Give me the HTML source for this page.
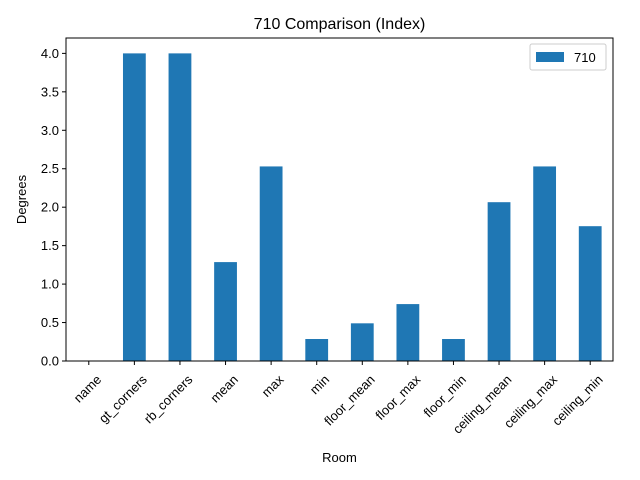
<!DOCTYPE html>
<html><head><meta charset="utf-8"><style>
body{margin:0;background:#fff;}
svg{display:block;font-family:"Liberation Sans","DejaVu Sans",sans-serif;}
</style></head><body>
<svg id="chart" width="640" height="480" viewBox="0 0 640 480">
<rect width="640" height="480" fill="#fff"/>
<text x="339.5" y="29" text-anchor="middle" font-size="16">710 Comparison (Index)</text>
<g id="bars"></g>
<g id="yticks"></g>
<g id="xticks"></g>
<rect x="66" y="38" width="547" height="323" fill="none" stroke="#000" stroke-width="1"/>
<text x="339.5" y="462" text-anchor="middle" font-size="13">Room</text>
<text transform="translate(26,199.5) rotate(-90)" text-anchor="middle" font-size="13">Degrees</text>
<g>
<rect x="530" y="44" width="76" height="26" fill="#fff" stroke="#ccc" rx="2"/>
<rect x="536" y="52" width="28" height="10" fill="#1f77b4"/>
<text x="574" y="62" font-size="13">710</text>
</g>
</svg>
<script>
const categories=["name","gt_corners","rb_corners","mean","max","min","floor_mean","floor_max","floor_min","ceiling_mean","ceiling_max","ceiling_min"];
const values=[0,4.0,4.0,1.286,2.53,0.286,0.49,0.74,0.286,2.065,2.53,1.753];
const yTicks=[0,0.5,1.0,1.5,2.0,2.5,3.0,3.5,4.0];
const NS="http://www.w3.org/2000/svg";
const L=66,R=613,T=38,B=361;
const yMax=4.2;
function y(v){return B-(v/yMax)*(B-T);}
const step=(R-L)/categories.length;
function xc(i){return L+step*(i+0.5);}
const bars=document.getElementById('bars'),yt=document.getElementById('yticks'),xt=document.getElementById('xticks');
categories.forEach((c,i)=>{
  const r=document.createElementNS(NS,'rect');
  r.setAttribute('x',xc(i)-step/4);r.setAttribute('width',step/2);
  r.setAttribute('y',y(values[i]));r.setAttribute('height',B-y(values[i]));
  r.setAttribute('fill','#1f77b4');
  
  
  bars.appendChild(r);
  const tk=document.createElementNS(NS,'line');
  tk.setAttribute('x1',xc(i));tk.setAttribute('x2',xc(i));tk.setAttribute('y1',B);tk.setAttribute('y2',B+4);tk.setAttribute('stroke','#000');
  
  
  xt.appendChild(tk);
  const t=document.createElementNS(NS,'text');
  t.setAttribute('transform',`translate(${xc(i)+6},${B+12}) rotate(-45)`);
  t.setAttribute('text-anchor','end');t.setAttribute('font-size','13');t.setAttribute('dy','0.8em');
  t.textContent=c;
  
  
  xt.appendChild(t);
});
yTicks.forEach(v=>{
  const tk=document.createElementNS(NS,'line');
  tk.setAttribute('x1',L-4);tk.setAttribute('x2',L);tk.setAttribute('y1',y(v));tk.setAttribute('y2',y(v));tk.setAttribute('stroke','#000');
  
  
  yt.appendChild(tk);
  const t=document.createElementNS(NS,'text');
  t.setAttribute('x',L-7);t.setAttribute('y',y(v)+4.5);t.setAttribute('text-anchor','end');t.setAttribute('font-size','13');
  t.textContent=v.toFixed(1);
  
  
  yt.appendChild(t);
});
</script>
</body></html>
